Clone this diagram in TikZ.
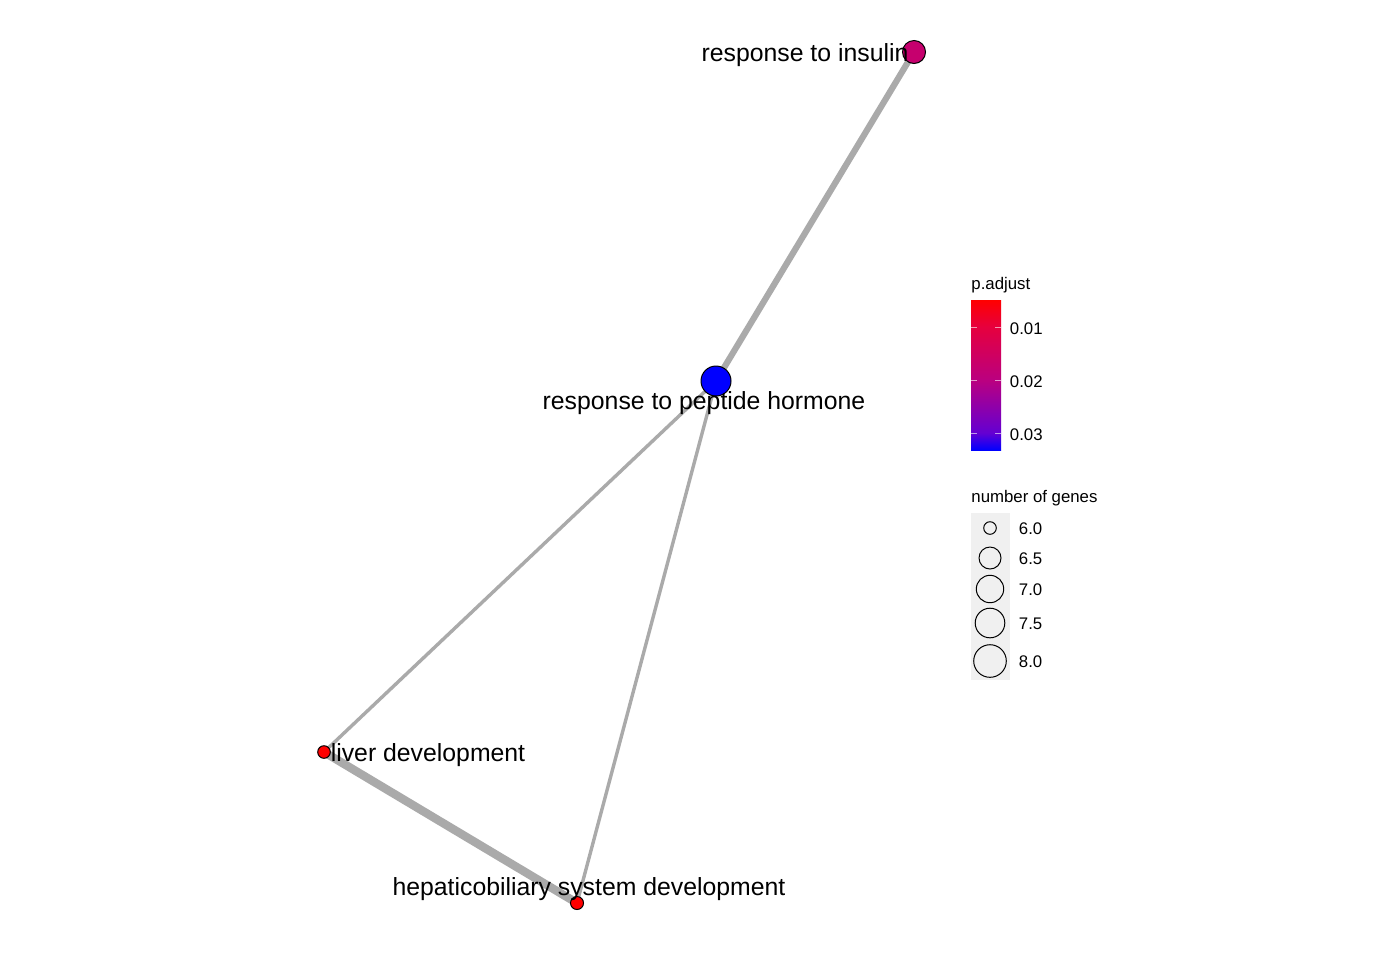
\documentclass[tikz,border=0pt]{standalone}
\usepackage{fontspec}
\setmainfont{Liberation Sans}
\usetikzlibrary{backgrounds}
\definecolor{insulincol}{RGB}{198,0,110}
\definecolor{edgegray}{RGB}{170,170,170}
\definecolor{keybg}{RGB}{240,240,240}
\definecolor{cone}{RGB}{230,0,62}
\definecolor{ctwo}{RGB}{186,0,128}
\definecolor{cthree}{RGB}{100,0,210}
\pgfdeclareverticalshading{pvalbar}{100bp}{color(0bp)=(blue); color(25bp)=(blue);
  color(30.7bp)=(cthree); color(48.3bp)=(ctwo); color(66bp)=(cone); color(75bp)=(red); color(100bp)=(red)}

\begin{document}
\begin{tikzpicture}[x=0.5pt,y=-0.5pt,
    term/.style={circle,draw=black,line width=0.5pt,inner sep=0pt},
    edge/.style={draw=edgegray,line cap=butt},
    lbl/.style={anchor=base,inner sep=0pt,font=\fontsize{12.4}{14}\selectfont},
    keytxt/.style={anchor=base west,inner sep=0pt,font=\fontsize{8.4}{10}\selectfont}]
        \useasboundingbox (0,0) rectangle (1400,960);
        \node[term,fill=insulincol,minimum size=11.5pt] (insulin) at (914,52) {};
        \node[term,fill=blue,minimum size=15pt] (peptide) at (716,381) {};
        \node[term,fill=red,minimum size=6.3pt] (liver) at (324,752) {};
        \node[term,fill=red,minimum size=6.5pt] (hepatic) at (577,903) {};
        \begin{scope}[on background layer]
        \fill[white] (0,0) rectangle (1400,960);
        \draw[edge,line width=3.1pt] (insulin.center) -- (peptide.center);
        \draw[edge,line width=1.7pt] (peptide.center) -- (liver.center);
        \draw[edge,line width=1.7pt] (peptide.center) -- (hepatic.center);
        \draw[edge,line width=4.2pt] (liver.center) -- (hepatic.center);
        \end{scope}
        \node[lbl] (insulinlbl) at (805,61) {response to insulin};
        \node[lbl] (peptidelbl) at (704,409) {response to peptide hormone};
        \node[lbl] (liverlbl) at (428,761) {liver development};
        \node[lbl] (hepaticlbl) at (589,895) {hepaticobiliary system development};
        \node[keytxt] (padjtitle) at (971,289.3) {p.adjust};
        \shade[shading=pvalbar] (971,300) rectangle (1001,450);
        \foreach \ty/\tv in {327/0.01,380/0.02,433/0.03} {
            \draw[white,opacity=0.6,line width=0.5pt] (971,\ty) -- (977,\ty) (995,\ty) -- (1001,\ty);
            \node[keytxt] at (1009.5,\ty+7) {\tv};
        }
        \node[keytxt] (sizetitle) at (971,502.3) {number of genes};
        \fill[keybg] (971,513) rectangle (1010,680);
        \foreach \gy/\gd/\gv [count=\gi] in {528/6.3/6.0,558/11/6.5,589/13.7/7.0,623/14.8/7.5,661/16.3/8.0} {
            \node[term,minimum size=\gd pt] (key\gi) at (990,\gy) {};
            \node[keytxt] (keylbl\gi) at (1018.5,\gy+6.3) {\gv};
        }
       \end{tikzpicture}
\end{document}
